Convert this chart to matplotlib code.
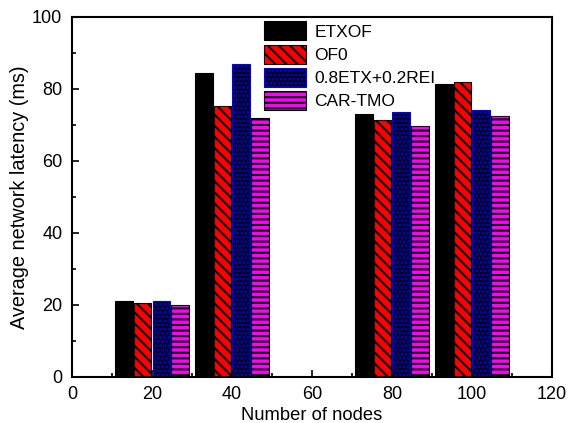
import numpy as np
import matplotlib
matplotlib.use("Agg")
import matplotlib.pyplot as plt

plt.rcParams['font.family'] = ['Liberation Sans', 'DejaVu Sans']
plt.rcParams['hatch.linewidth'] = 1.5

# datos
nodos = [20, 40, 80, 100]
series = ['ETXOF', 'OF0', '0.8ETX+0.2REI', 'CAR-TMO']
etxof = [21.2, 84.5, 73.0, 81.5]
of0 = [20.6, 75.3, 71.4, 82.0]
etx_rei = [21.1, 86.8, 73.6, 74.2]
car_tmo = [20.1, 72.0, 69.8, 72.5]

valores = [etxof, of0, etx_rei, car_tmo]
caras = ['black', 'red', 'black', 'magenta']
bordes = ['black', 'black', 'blue', 'black']
tramas = [None, '\\\\\\', '....', '---']

fig, ax = plt.subplots(figsize=(5.76, 4.23), dpi=100)
fig.subplots_adjust(left=0.125, right=0.958, bottom=0.109, top=0.96)

ancho = 4.4
paso = 4.67
x = np.array(nodos, dtype=float)
for i, vals in enumerate(valores):
    ax.bar(x + (i - 1.5) * paso, vals, width=ancho, color=caras[i],
           edgecolor=bordes[i], hatch=tramas[i], linewidth=0.8,
           label=series[i])

ax.set_xlim(0, 120)
ax.set_ylim(0, 100)
ax.set_xticks(range(0, 121, 20))
ax.set_xticks(range(10, 120, 20), minor=True)
ax.set_yticks(range(0, 101, 20))
ax.set_yticks(range(10, 100, 20), minor=True)
ax.tick_params(direction='in', which='both', labelsize=13, width=1.2)
ax.tick_params(which='major', length=5)
ax.tick_params(which='minor', length=3)
ax.tick_params(axis='x', which='major', pad=6.5)
ax.tick_params(axis='y', which='major', pad=7)
for s in ax.spines.values():
    s.set_linewidth(1.5)

ax.set_xlabel('Number of nodes', fontsize=13.2, labelpad=3)
ax.set_ylabel('Average network latency (ms)', fontsize=14.3, labelpad=2)

ax.legend(loc='upper left', bbox_to_anchor=(0.395, 0.995), frameon=False,
          fontsize=12.5, handlelength=2.4, handleheight=1.3, labelspacing=0.25,
          handletextpad=0.5, borderpad=0.15, borderaxespad=0)

fig.savefig('out.png', dpi=100)
